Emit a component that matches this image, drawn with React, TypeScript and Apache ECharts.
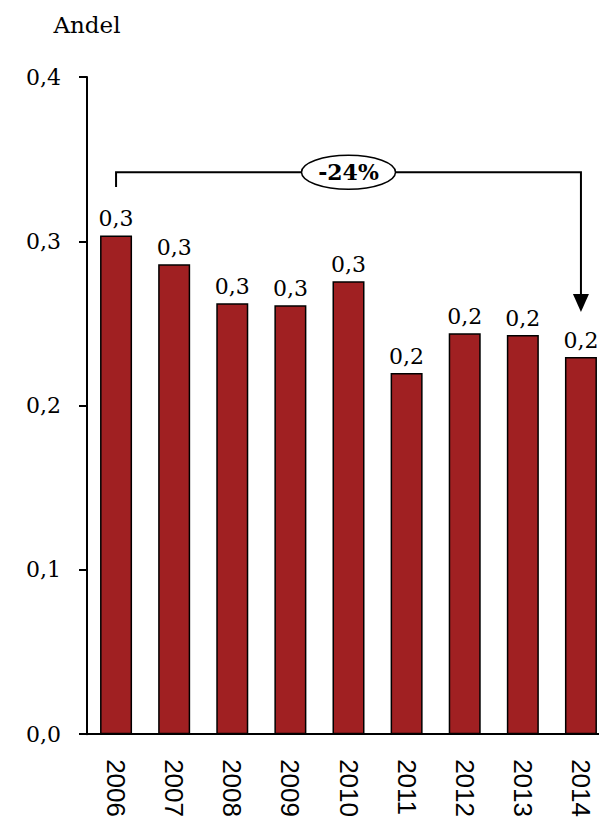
import React, { useEffect, useRef } from "react";
import * as echarts from "echarts";

const years = ["2006", "2007", "2008", "2009", "2010", "2011", "2012", "2013", "2014"];
const andel = [0.3036, 0.286, 0.2623, 0.2611, 0.2757, 0.2198, 0.2441, 0.2429, 0.2295];
const yTicks = { min: 0, max: 0.4, interval: 0.1 };
const bracketLevels = { start: 0.333, top: 0.342, arrowTip: 0.257 };

const SERIF = "'DejaVu Serif', Georgia, serif";
const SANS = "'Liberation Sans', Arial, sans-serif";
const fmt = (v: number) => v.toFixed(1).replace(".", ",");

export default function App() {
  const ref = useRef<HTMLDivElement>(null);
  useEffect(() => {
    document.body.style.margin = "0";
    const chart = echarts.init(ref.current!, null, { renderer: "svg" });
    chart.setOption({
      animation: false,
      grid: { left: 87, top: 77, width: 523, height: 658, containLabel: false },
      xAxis: {
        type: "category",
        data: years,
        axisLine: { lineStyle: { color: "#000", width: 2 } },
        axisTick: { show: false },
        axisLabel: {
          rotate: -90,
          margin: 25,
          color: "#000",
          fontFamily: SANS,
          fontSize: 26,
        },
      },
      yAxis: {
        type: "value",
        min: yTicks.min,
        max: yTicks.max,
        interval: yTicks.interval,
        name: "Andel",
        nameLocation: "end",
        nameGap: 41,
        nameTextStyle: { color: "#000", fontFamily: SERIF, fontSize: 23, align: "center" },
        axisLine: { show: true, lineStyle: { color: "#000", width: 2 } },
        axisTick: { show: true, length: 8, lineStyle: { color: "#000", width: 2 } },
        splitLine: { show: false },
        axisLabel: {
          margin: 26,
          color: "#000",
          fontFamily: SERIF,
          fontSize: 22,
          formatter: (v: number) => fmt(v),
        },
      },
      series: [
        {
          type: "bar",
          data: andel,
          barWidth: 32,
          itemStyle: { color: "#A02022", borderColor: "#000", borderWidth: 1.5 },
          label: {
            show: true,
            position: "top",
            distance: 6,
            color: "#000",
            fontFamily: SERIF,
            fontSize: 22,
            formatter: (p: any) => fmt(p.value),
          },
        },
      ],
    });

    const first = chart.convertToPixel({ seriesIndex: 0 }, [0, bracketLevels.start]) as number[];
    const last = andel.length - 1;
    const topL = chart.convertToPixel({ seriesIndex: 0 }, [0, bracketLevels.top]) as number[];
    const topR = chart.convertToPixel({ seriesIndex: 0 }, [last, bracketLevels.top]) as number[];
    const tip = chart.convertToPixel({ seriesIndex: 0 }, [last, bracketLevels.arrowTip]) as number[];
    const change = Math.round((andel[last] / andel[0] - 1) * 100);
    const cx = (topL[0] + topR[0]) / 2;
    const cy = topL[1];
    const headLen = 18;
    chart.setOption({
      graphic: [
        {
          type: "polyline",
          shape: {
            points: [
              [first[0], first[1]],
              [topL[0], topL[1]],
              [topR[0], topR[1]],
              [tip[0], tip[1] - headLen],
            ],
          },
          style: { stroke: "#000", lineWidth: 2, fill: null },
          z: 10,
        },
        {
          type: "polygon",
          shape: {
            points: [
              [tip[0] - 8, tip[1] - headLen],
              [tip[0] + 8, tip[1] - headLen],
              [tip[0], tip[1]],
            ],
          },
          style: { fill: "#000" },
          z: 10,
        },
        {
          type: "ellipse",
          shape: { cx, cy, rx: 47, ry: 17 },
          style: { fill: "#fff", stroke: "#000", lineWidth: 1.5 },
          z: 11,
        },
        {
          type: "text",
          x: cx,
          y: cy,
          style: {
            text: `${change}%`,
            fontFamily: SERIF,
            fontWeight: "bold",
            fontSize: 22,
            fill: "#000",
            align: "center",
            verticalAlign: "middle",
          },
          z: 12,
        },
      ],
    });
    return () => chart.dispose();
  }, []);
  return (
    <div style={{ width: 599, height: 820, overflow: "hidden", position: "relative" }}>
      <div ref={ref} style={{ width: 620, height: 820 }} />
    </div>
  );
}
